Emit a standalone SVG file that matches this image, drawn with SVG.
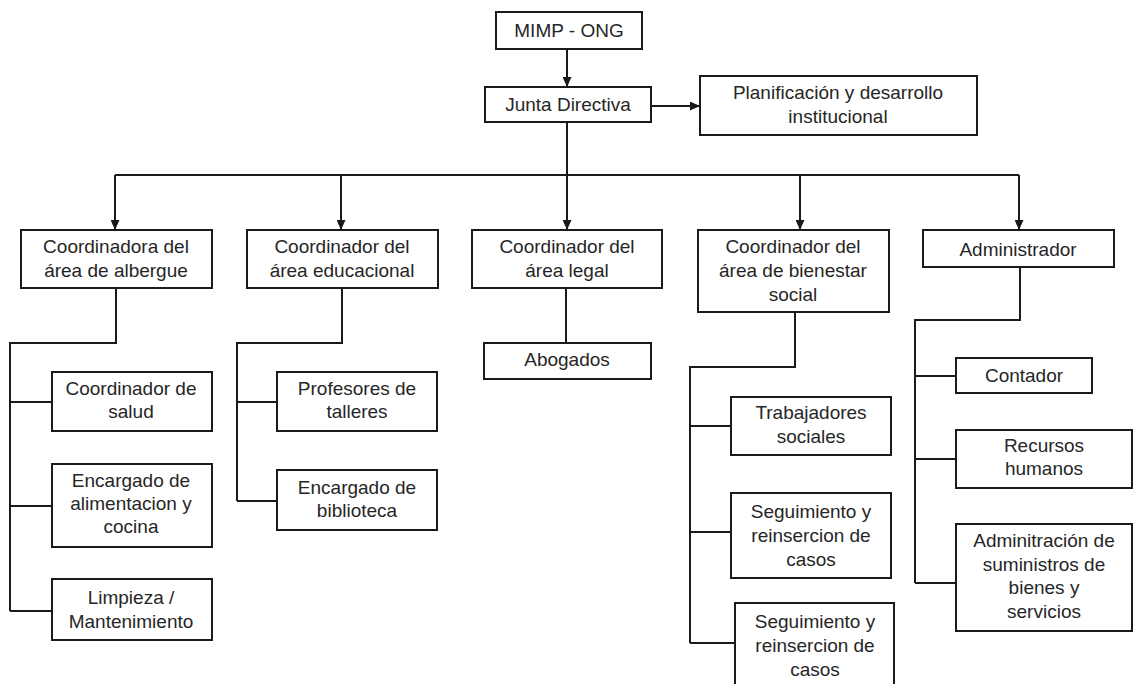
<svg xmlns="http://www.w3.org/2000/svg" width="1138" height="684" viewBox="0 0 1138 684">
<style>
.box{fill:#fff;stroke:#1a1a1a;stroke-width:2}
.lbl{font-family:"Liberation Sans",Arial,sans-serif;font-size:19px;fill:#262626;text-anchor:middle}
.ln{fill:none;stroke:#1a1a1a;stroke-width:2}
</style>
<defs>
<marker id="ah" markerUnits="userSpaceOnUse" markerWidth="10" markerHeight="9" refX="10" refY="4.5" orient="auto">
<path d="M0,0 L10,4.5 L0,9 z" fill="#1a1a1a"/>
</marker>
</defs>
<rect width="1138" height="684" fill="#fff"/>
<g id="connectors">
<path class="ln" d="M567,49 V87" marker-end="url(#ah)"/>
<path class="ln" d="M651,106 H700" marker-end="url(#ah)"/>
<path class="ln" d="M567,122 V230" marker-end="url(#ah)"/>
<path class="ln" d="M115,175 H1019"/>
<path class="ln" d="M115,175 V230" marker-end="url(#ah)"/>
<path class="ln" d="M341,175 V230" marker-end="url(#ah)"/>
<path class="ln" d="M800,175 V230" marker-end="url(#ah)"/>
<path class="ln" d="M1019,175 V230" marker-end="url(#ah)"/>
<path class="ln" d="M116,288 V343 H10 V611 M10,402 H52 M10,506 H52 M10,611 H52"/>
<path class="ln" d="M342,288 V343 H237 V501 M237,402 H277 M237,501 H277"/>
<path class="ln" d="M566,288 V343"/>
<path class="ln" d="M795,312 V367 H690 V643 M690,426 H731 M690,532 H731 M690,643 H735"/>
<path class="ln" d="M1020,267 V320 H915 V583 M915,376 H956 M915,459 H956 M915,583 H956"/>
</g>
<g id="mimp"><rect class="box" x="496" y="12" width="146" height="37"/><text class="lbl" x="569" y="37">MIMP - ONG</text></g>
<g id="junta"><rect class="box" x="485" y="87" width="166" height="35"/><text class="lbl" x="568" y="111">Junta Directiva</text></g>
<g id="planificacion"><rect class="box" x="700" y="76" width="277" height="59"/><text class="lbl" x="838" y="99">Planificación y desarrollo</text><text class="lbl" x="838" y="123">institucional</text></g>
<g id="albergue"><rect class="box" x="21" y="230" width="191" height="58"/><text class="lbl" x="116" y="253">Coordinadora del</text><text class="lbl" x="116" y="277">área de albergue</text></g>
<g id="educacional"><rect class="box" x="247" y="230" width="191" height="58"/><text class="lbl" x="342" y="253">Coordinador del</text><text class="lbl" x="342" y="277">área educacional</text></g>
<g id="legal"><rect class="box" x="472" y="230" width="190" height="58"/><text class="lbl" x="567" y="253">Coordinador del</text><text class="lbl" x="567" y="277">área legal</text></g>
<g id="bienestar"><rect class="box" x="698" y="230" width="191" height="82"/><text class="lbl" x="793" y="253">Coordinador del</text><text class="lbl" x="793" y="277">área de bienestar</text><text class="lbl" x="793" y="301">social</text></g>
<g id="administrador"><rect class="box" x="923" y="230" width="191" height="37"/><text class="lbl" x="1018" y="256">Administrador</text></g>
<g id="salud"><rect class="box" x="52" y="372" width="160" height="59"/><text class="lbl" x="131" y="395">Coordinador de</text><text class="lbl" x="131" y="418">salud</text></g>
<g id="alimentacion"><rect class="box" x="52" y="464" width="160" height="83"/><text class="lbl" x="131" y="487">Encargado de</text><text class="lbl" x="131" y="510">alimentacion y</text><text class="lbl" x="131" y="533">cocina</text></g>
<g id="limpieza"><rect class="box" x="52" y="579" width="160" height="61"/><text class="lbl" x="131" y="604">Limpieza /</text><text class="lbl" x="131" y="628">Mantenimiento</text></g>
<g id="profesores"><rect class="box" x="277" y="372" width="160" height="59"/><text class="lbl" x="357" y="395">Profesores de</text><text class="lbl" x="357" y="418">talleres</text></g>
<g id="biblioteca"><rect class="box" x="277" y="470" width="160" height="60"/><text class="lbl" x="357" y="494">Encargado de</text><text class="lbl" x="357" y="517">biblioteca</text></g>
<g id="abogados"><rect class="box" x="484" y="343" width="167" height="36"/><text class="lbl" x="567" y="366">Abogados</text></g>
<g id="trabajadores"><rect class="box" x="731" y="397" width="160" height="58"/><text class="lbl" x="811" y="419">Trabajadores</text><text class="lbl" x="811" y="443">sociales</text></g>
<g id="seguimiento1"><rect class="box" x="731" y="493" width="160" height="85"/><text class="lbl" x="811" y="518">Seguimiento y</text><text class="lbl" x="811" y="542">reinsercion de</text><text class="lbl" x="811" y="566">casos</text></g>
<g id="seguimiento2"><rect class="box" x="735" y="603" width="159" height="95"/><text class="lbl" x="815" y="628">Seguimiento y</text><text class="lbl" x="815" y="652">reinsercion de</text><text class="lbl" x="815" y="676">casos</text></g>
<g id="contador"><rect class="box" x="956" y="358" width="136" height="35"/><text class="lbl" x="1024" y="382">Contador</text></g>
<g id="rrhh"><rect class="box" x="956" y="430" width="176" height="58"/><text class="lbl" x="1044" y="452">Recursos</text><text class="lbl" x="1044" y="475">humanos</text></g>
<g id="suministros"><rect class="box" x="956" y="524" width="176" height="107"/><text class="lbl" x="1044" y="547">Adminitración de</text><text class="lbl" x="1044" y="571">suministros de</text><text class="lbl" x="1044" y="594">bienes y</text><text class="lbl" x="1044" y="618">servicios</text></g>
</svg>
